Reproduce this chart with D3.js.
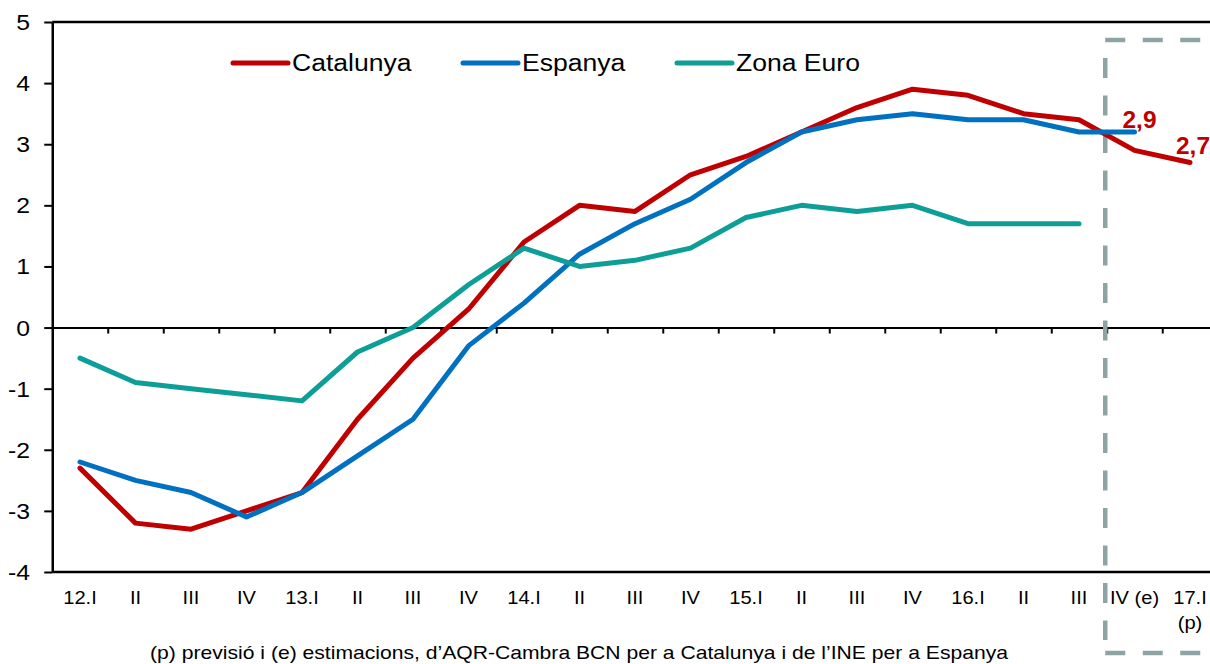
<!DOCTYPE html>
<html>
<head>
<meta charset="utf-8">
<script src="https://cdn.jsdelivr.net/npm/d3@7"></script>
<style>
  html, body { margin: 0; padding: 0; background: #fff; }
  svg { display: block; font-family: "Liberation Sans", Arial, sans-serif; }
</style>
</head>
<body>
<svg id="chart" width="1210" height="664"></svg>
<script>
// ---------- DATA ----------
const categories = ["12.I","II","III","IV","13.I","II","III","IV","14.I","II","III","IV","15.I","II","III","IV","16.I","II","III","IV (e)","17.I"];
const catalunya = [-2.3,-3.2,-3.3,-3.0,-2.7,-1.5,-0.5,0.3,1.4,2.0,1.9,2.5,2.8,3.2,3.6,3.9,3.8,3.5,3.4,2.9,2.7];
const espanya   = [-2.2,-2.5,-2.7,-3.1,-2.7,-2.1,-1.5,-0.3,0.4,1.2,1.7,2.1,2.7,3.2,3.4,3.5,3.4,3.4,3.2,3.2];
const zonaEuro  = [-0.5,-0.9,-1.0,-1.1,-1.2,-0.4,0.0,0.7,1.3,1.0,1.1,1.3,1.8,2.0,1.9,2.0,1.7,1.7,1.7];
const yTicks = [-4,-3,-2,-1,0,1,2,3,4,5];
const seriesNames = ["Catalunya","Espanya","Zona Euro"];
const dataLabels = [{series:"Catalunya", index:19, text:"2,9"}, {series:"Catalunya", index:20, text:"2,7"}];
const footnote = "(p) previsió i (e) estimacions, d\u2019AQR-Cambra BCN per a Catalunya i de l\u2019INE per a Espanya";

// ---------- SETUP ----------
const svg = d3.select("#chart");
const colors = {"Catalunya":"#c00000","Espanya":"#0070c0","Zona Euro":"#0e9e98"};
const seriesData = {"Catalunya":catalunya,"Espanya":espanya,"Zona Euro":zonaEuro};
const SX = 1.16; // horizontal stretch of the original text

const plotLeft = 52.25, plotRight = 1217.75, plotTop = 22, plotBottom = 572;
const idx = d3.range(categories.length);
const x = d3.scalePoint().domain(idx).range([plotLeft, plotRight]).padding(0.5);
const step = x.step();
const y = d3.scaleLinear().domain([-4, 5]).range([plotBottom, plotTop]);

function stretchedText(g, tx, ty, txt, opts) {
  return g.append("text")
    .attr("transform", `translate(${tx},${ty}) scale(${opts.sx || SX},1)`)
    .attr("text-anchor", opts.anchor || "middle")
    .attr("font-size", opts.size)
    .attr("fill", opts.fill || "#000")
    .attr("font-weight", opts.weight || "normal")
    .text(txt);
}

// Frame (top & bottom border)
svg.append("line").attr("x1", plotLeft).attr("x2", plotRight).attr("y1", y(5)).attr("y2", y(5))
  .attr("stroke", "#000").attr("stroke-width", 2.5);
svg.append("line").attr("x1", plotLeft).attr("x2", plotRight).attr("y1", y(-4)).attr("y2", y(-4))
  .attr("stroke", "#000").attr("stroke-width", 2.5);

// Y axis
const yAxis = d3.axisLeft(y).tickValues(yTicks).tickSize(8).tickFormat("").tickSizeOuter(0);
const gy = svg.append("g").attr("transform", `translate(${plotLeft},0)`).call(yAxis);
gy.select(".domain").attr("stroke", "#000").attr("stroke-width", 2.5);
gy.selectAll(".tick line").attr("stroke", "#000").attr("stroke-width", 2);
const gyl = svg.append("g");
yTicks.forEach(v => stretchedText(gyl, 30, y(v) + 8, String(v), {anchor:"end", size:22.5, sx:1.1}));

// Zero line with ticks at category boundaries
const boundaries = idx.slice(0, idx.length - 1).map(i => x(i) + step / 2);
const zeroAxis = d3.axisBottom(d3.scaleLinear().domain([plotLeft, plotRight]).range([plotLeft, plotRight]))
  .tickValues(boundaries).tickSize(6).tickFormat("").tickSizeOuter(0);
const gz = svg.append("g").attr("transform", `translate(0,${y(0)})`).call(zeroAxis);
gz.select(".domain").attr("stroke", "#000").attr("stroke-width", 2);
gz.selectAll(".tick line").attr("stroke", "#000").attr("stroke-width", 2);

// X labels
const gx = svg.append("g");
categories.forEach((c, i) => {
  stretchedText(gx, x(i), 604, c, {size:19, sx:1.06});
});
stretchedText(gx, x(20), 629, "(p)", {size:19, sx:1.06});

// Dashed forecast box
const boxX = x(18) + step / 2 - 1.5;
const box = svg.append("g").attr("stroke", "#8ea3a3").attr("stroke-width", 4.5).attr("fill", "none")
  .attr("stroke-dasharray", "20,17.5");
box.append("line").attr("x1", boxX).attr("x2", 1230).attr("y1", 40).attr("y2", 40);
box.append("line").attr("x1", boxX).attr("x2", boxX).attr("y1", 58).attr("y2", 640);
box.append("line").attr("x1", boxX).attr("x2", 1230).attr("y1", 653).attr("y2", 653);

// Series lines
const line = d3.line().x((d, i) => x(i)).y(d => y(d));
seriesNames.forEach(name => {
  svg.append("path").datum(seriesData[name])
    .attr("d", line)
    .attr("fill", "none")
    .attr("stroke", colors[name])
    .attr("stroke-width", 5)
    .attr("stroke-linejoin", "round")
    .attr("stroke-linecap", "round");
});

// Data labels
const offsets = {19: [-12, -22], 20: [-14, -9]};
dataLabels.forEach(d => {
  const v = seriesData[d.series][d.index];
  stretchedText(svg, x(d.index) + offsets[d.index][0], y(v) + offsets[d.index][1], d.text,
    {anchor:"start", size:24, weight:"bold", fill:colors[d.series], sx:1.02});
});

// Legend
const legendPos = [233, 463, 677];
const lg = svg.append("g");
seriesNames.forEach((name, i) => {
  lg.append("line").attr("x1", legendPos[i]).attr("x2", legendPos[i] + 55)
    .attr("y1", 63).attr("y2", 63)
    .attr("stroke", colors[name]).attr("stroke-width", 5).attr("stroke-linecap", "round");
  stretchedText(lg, legendPos[i] + 59, 71, name, {anchor:"start", size:23.5, sx:1.13});
});

// Footnote
svg.append("text").attr("x", 150).attr("y", 659)
  .attr("font-size", 19).attr("textLength", 858).attr("lengthAdjust", "spacingAndGlyphs")
  .text(footnote);
</script>
</body>
</html>
